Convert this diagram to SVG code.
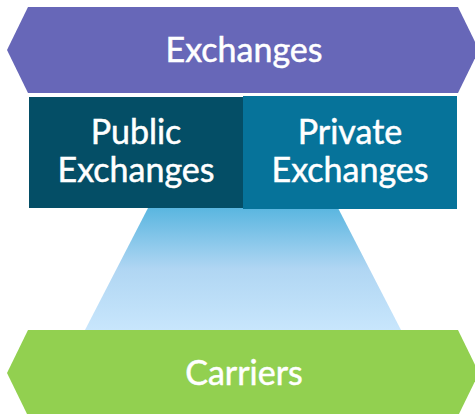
<svg xmlns="http://www.w3.org/2000/svg" width="475" height="414" viewBox="0 0 475 414">
<style>
.t{font-family:Lato,"Open Sans","Liberation Sans",sans-serif;font-size:34px;font-weight:400;fill:#ffffff;stroke:#ffffff;stroke-width:0.5;text-anchor:middle}
</style>
<defs>
<linearGradient id="g" x1="0" y1="0" x2="0" y2="1">
<stop offset="0" stop-color="#5ab6e0"/>
<stop offset="0.5" stop-color="#b0d6f3"/>
<stop offset="1" stop-color="#c8e6fc"/>
</linearGradient>
</defs>
<g id="funnel">
<polygon points="148,208 338,208 401,330 85,330" fill="url(#g)"/>
</g>
<g id="exchanges">
<polygon points="28,7 458,7 479,50 458,93 28,93 7,50" fill="#6767b8"/>
<text class="t" x="244" y="62">Exchanges</text>
</g>
<g id="public">
<rect x="29" y="97" width="214" height="111" fill="#044e66"/>
<text class="t" x="136" y="144">Public</text>
<text class="t" x="136" y="182">Exchanges</text>
</g>
<g id="private">
<rect x="243" y="96" width="214" height="113" fill="#06739a"/>
<text class="t" x="350" y="144">Private</text>
<text class="t" x="350" y="182">Exchanges</text>
</g>
<g id="carriers">
<polygon points="28,330 458,330 479,373 458,416 28,416 7,373" fill="#92d050"/>
<text class="t" x="244" y="385">Carriers</text>
</g>
<g id="connectors"/>
</svg>
